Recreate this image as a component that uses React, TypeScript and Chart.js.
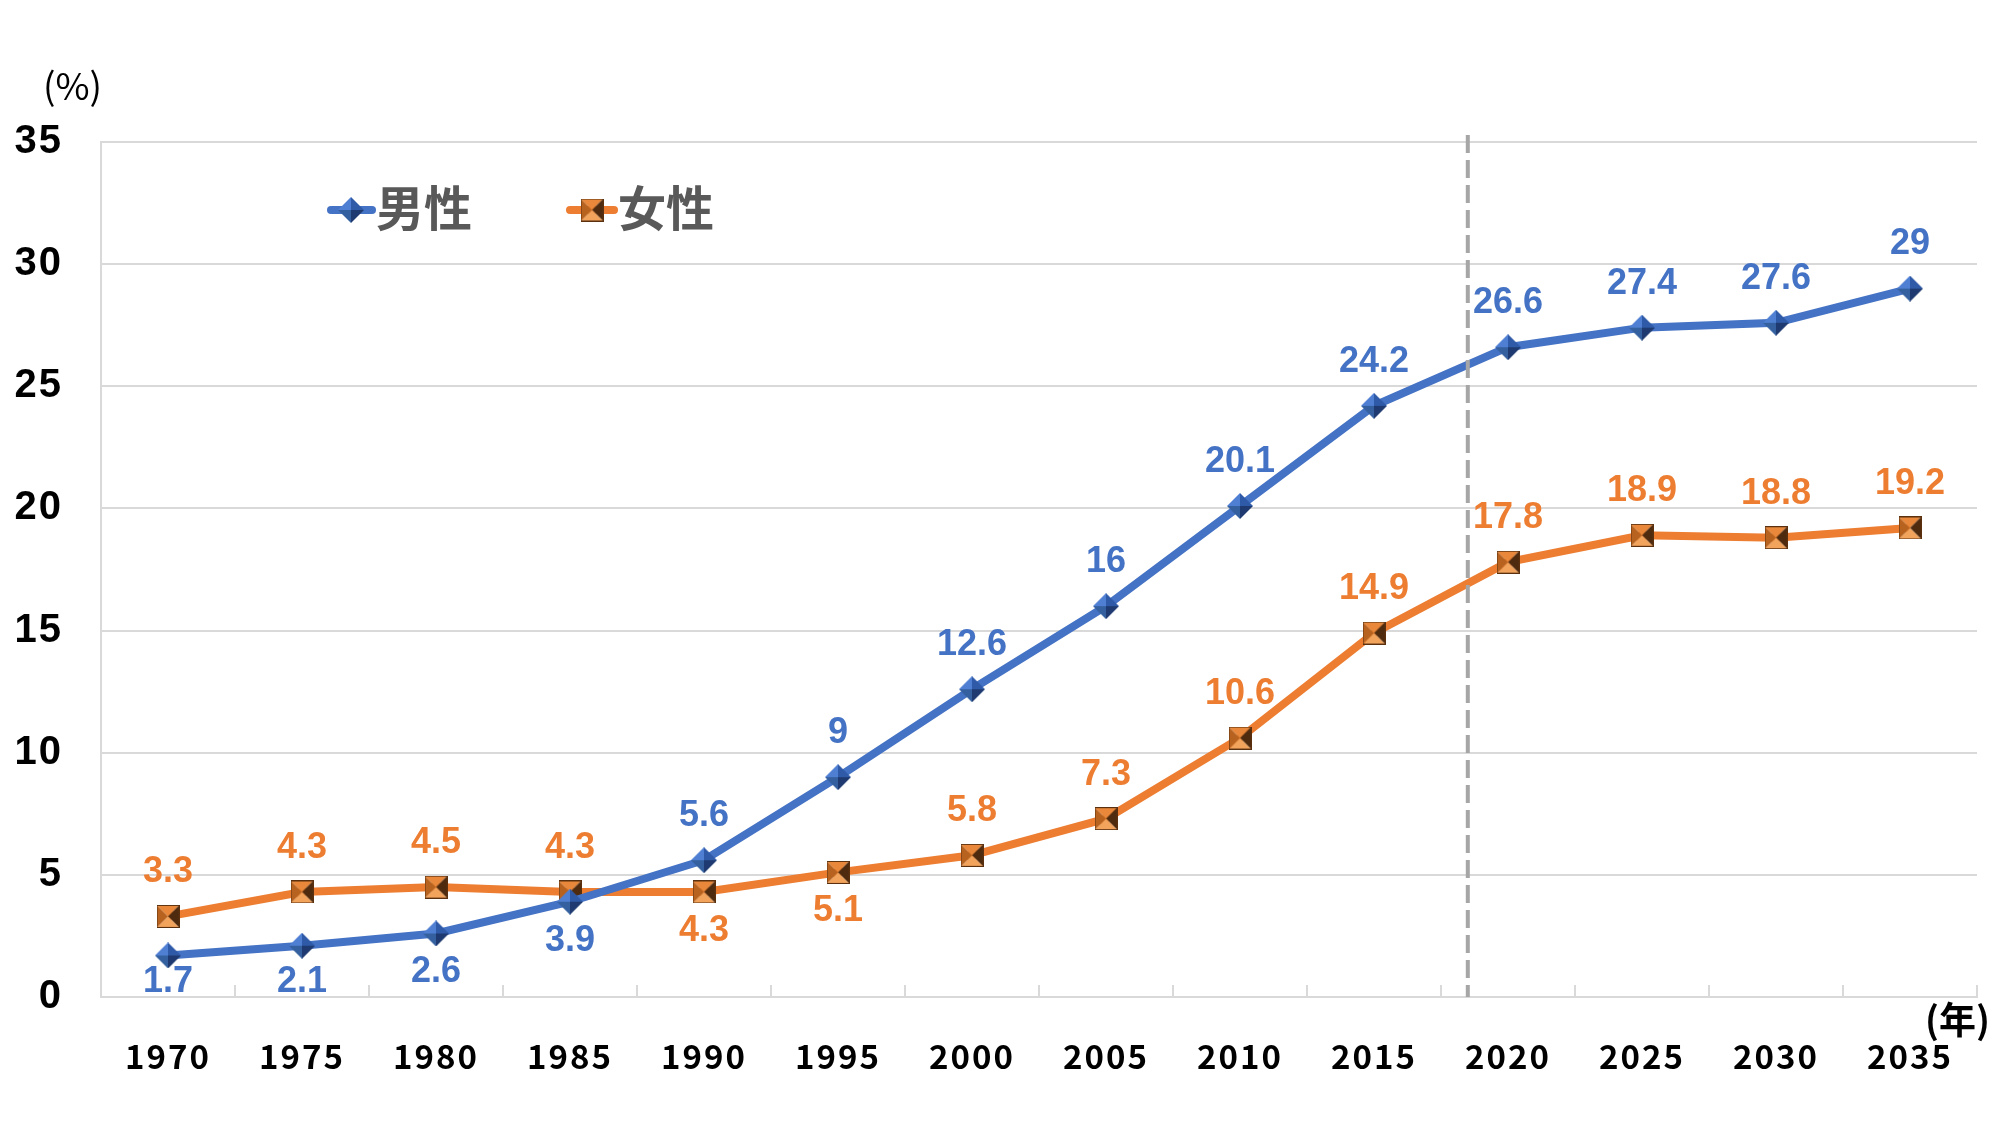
import React, { useEffect, useRef } from 'react';
import { Chart, registerables } from 'chart.js';

Chart.register(...registerables);

// ---- data ----
const years = ['1970', '1975', '1980', '1985', '1990', '1995', '2000', '2005', '2010', '2015', '2020', '2025', '2030', '2035'];
const maleValues = [1.7, 2.1, 2.6, 3.9, 5.6, 9, 12.6, 16, 20.1, 24.2, 26.6, 27.4, 27.6, 29];
const femaleValues = [3.3, 4.3, 4.5, 4.3, 4.3, 5.1, 5.8, 7.3, 10.6, 14.9, 17.8, 18.9, 18.8, 19.2];
const seriesNames = ['男性', '女性'];
const yMin = 0;
const yMax = 35;
const yStep = 5;
const yUnitLabel = '(%)';
const xUnitLabel = '(年)';
// label placement (true = below the point)
const maleLabelBelow = [true, true, true, true, false, false, false, false, false, false, false, false, false, false];
const femaleLabelBelow = [false, false, false, false, true, true, false, false, false, false, false, false, false, false];
// position of the dashed divider, in category-index units
const dividerIndex = 9.7;

const BLUE = '#4472C4';
const ORANGE = '#ED7D31';
const GRID = '#D9D9D9';

function makeDiamond(size: number): HTMLCanvasElement {
  const c = document.createElement('canvas');
  c.width = size;
  c.height = size;
  const ctx = c.getContext('2d')!;
  const m = size / 2;
  const T = [m, 0], R = [size, m], B = [m, size], L = [0, m], C = [m, m];
  const tri = (a: number[], b: number[], col: string) => {
    ctx.beginPath();
    ctx.moveTo(C[0], C[1]);
    ctx.lineTo(a[0], a[1]);
    ctx.lineTo(b[0], b[1]);
    ctx.closePath();
    ctx.fillStyle = col;
    ctx.fill();
  };
  tri(L, T, '#4F7FD3');
  tri(T, R, '#2F5AA8');
  tri(R, B, '#1E3A70');
  tri(B, L, '#34609F');
  return c;
}

function makeSquare(size: number): HTMLCanvasElement {
  const c = document.createElement('canvas');
  c.width = size;
  c.height = size;
  const ctx = c.getContext('2d')!;
  const m = size / 2;
  const TL = [0, 0], TR = [size, 0], BR = [size, size], BL = [0, size], C = [m, m];
  const tri = (a: number[], b: number[], col: string) => {
    ctx.beginPath();
    ctx.moveTo(C[0], C[1]);
    ctx.lineTo(a[0], a[1]);
    ctx.lineTo(b[0], b[1]);
    ctx.closePath();
    ctx.fillStyle = col;
    ctx.fill();
  };
  tri(TL, TR, '#E9883A');
  tri(TR, BR, '#4E2A0E');
  tri(BR, BL, '#F2A35C');
  tri(BL, TL, '#B8621F');
  ctx.strokeStyle = '#5A300F';
  ctx.lineWidth = 1;
  ctx.strokeRect(0.5, 0.5, size - 1, size - 1);
  return c;
}

export default function App() {
  const ref = useRef<HTMLCanvasElement | null>(null);

  useEffect(() => {
    document.body.style.margin = '0';
    const canvas = ref.current!;
    const diamond = makeDiamond(26);
    const square = makeSquare(23);

    const decor = {
      id: 'decor',
      beforeDraw(chart: any) {
        // slightly spaced axis digits, as in the original
        (chart.ctx as any).letterSpacing = '2px';
      },
      beforeDatasetsDraw(chart: any) {
        const { ctx, chartArea, scales } = chart;
        (ctx as any).letterSpacing = '0px';
        const xs = scales.x;
        ctx.save();
        ctx.strokeStyle = GRID;
        ctx.lineWidth = 2;
        const step = xs.getPixelForValue(1) - xs.getPixelForValue(0);
        for (let i = 0; i <= years.length; i++) {
          const x = Math.round(xs.getPixelForValue(0) - step / 2 + i * step);
          ctx.beginPath();
          ctx.moveTo(x, chartArea.bottom);
          ctx.lineTo(x, chartArea.bottom - 12);
          ctx.stroke();
        }
        ctx.restore();
      },
      afterDatasetsDraw(chart: any) {
        const { ctx, chartArea, scales } = chart;
        const xs = scales.x;
        // dashed divider
        const i0 = Math.floor(dividerIndex);
        const frac = dividerIndex - i0;
        const dx = xs.getPixelForValue(i0) + frac * (xs.getPixelForValue(i0 + 1) - xs.getPixelForValue(i0));
        ctx.save();
        ctx.strokeStyle = '#A6A6A6';
        ctx.lineWidth = 4;
        ctx.setLineDash([18, 7]);
        ctx.beginPath();
        ctx.moveTo(dx, chartArea.top - 7);
        ctx.lineTo(dx, chartArea.bottom);
        ctx.stroke();
        ctx.restore();

        // data labels
        ctx.save();
        ctx.font = 'bold 36px "Liberation Sans", Arial, sans-serif';
        ctx.textAlign = 'center';
        ctx.textBaseline = 'middle';
        const sets = [
          { vals: maleValues, below: maleLabelBelow, color: BLUE },
          { vals: femaleValues, below: femaleLabelBelow, color: ORANGE },
        ];
        sets.forEach((s, di) => {
          const meta = chart.getDatasetMeta(di);
          ctx.fillStyle = s.color;
          meta.data.forEach((pt: any, i: number) => {
            let y = s.below[i] ? pt.y + 39 : pt.y - 44;
            if (y > chartArea.bottom - 15) y = chartArea.bottom - 15;
            ctx.fillText(String(s.vals[i]), pt.x, y);
          });
        });
        ctx.restore();
      },
      afterDraw(chart: any) {
        const { ctx } = chart;
        ctx.save();
        // legend
        const items = [
          { x1: 331, x2: 372, mx: 351, tx: 376, color: BLUE, img: diamond, text: seriesNames[0] },
          { x1: 570, x2: 614, mx: 592, tx: 618, color: ORANGE, img: square, text: seriesNames[1] },
        ];
        const ly = 210;
        items.forEach((it) => {
          ctx.strokeStyle = it.color;
          ctx.lineWidth = 8;
          ctx.lineCap = 'round';
          ctx.beginPath();
          ctx.moveTo(it.x1, ly);
          ctx.lineTo(it.x2, ly);
          ctx.stroke();
          ctx.drawImage(it.img, it.mx - it.img.width / 2, ly - it.img.height / 2);
          ctx.fillStyle = '#595959';
          ctx.font = 'bold 48px "Noto Sans CJK JP", sans-serif';
          ctx.textAlign = 'left';
          ctx.textBaseline = 'middle';
          ctx.fillText(it.text, it.tx, ly - 2);
        });
        // unit labels
        ctx.fillStyle = '#000';
        ctx.font = '37px "Noto Sans CJK JP", sans-serif';
        ctx.textAlign = 'left';
        ctx.textBaseline = 'middle';
        ctx.fillText(yUnitLabel, 43, 86);
        ctx.font = 'bold 37px "Noto Sans CJK JP", sans-serif';
        ctx.textAlign = 'right';
        ctx.fillText(xUnitLabel, 1990, 1020);
        ctx.restore();
      },
    };

    const chart = new Chart(canvas, {
      type: 'line',
      data: {
        labels: years,
        datasets: [
          {
            label: seriesNames[0],
            data: maleValues,
            borderColor: BLUE,
            backgroundColor: BLUE,
            borderWidth: 8,
            pointStyle: diamond as any,
            pointRadius: 13,
            tension: 0,
            clip: false as any,
          },
          {
            label: seriesNames[1],
            data: femaleValues,
            borderColor: ORANGE,
            backgroundColor: ORANGE,
            borderWidth: 8,
            pointStyle: square as any,
            pointRadius: 12,
            tension: 0,
            clip: false as any,
          },
        ],
      },
      options: {
        responsive: false,
        animation: false,
        devicePixelRatio: 1,
        layout: { padding: { left: 0, top: 142, right: 36, bottom: 0 } },
        plugins: { legend: { display: false }, tooltip: { enabled: false } },
        scales: {
          x: {
            type: 'category',
            offset: true,
            grid: { display: false, drawTicks: false },
            border: { display: true, color: GRID, width: 2 },
            ticks: {
              color: '#000',
              padding: 40,
              maxRotation: 0,
              autoSkip: false,
              font: { family: '"Noto Sans CJK JP", sans-serif', size: 33, weight: 'bold' },
            },
            afterFit: (s: any) => {
              s.height = 128;
            },
          },
          y: {
            min: yMin,
            max: yMax,
            ticks: {
              stepSize: yStep,
              color: '#000',
              padding: 38,
              font: { family: '"Liberation Sans", Arial, sans-serif', size: 40, weight: 'bold' },
            },
            grid: { color: GRID, lineWidth: 2, drawTicks: false },
            border: { display: true, color: GRID, width: 2 },
            afterFit: (s: any) => {
              s.width = 101;
            },
          },
        },
      } as any,
      plugins: [decor],
    });
    return () => chart.destroy();
  }, []);

  return (
    <div style={{ position: 'absolute', left: 0, top: 0, width: 2013, height: 1125, background: '#fff' }}>
      <canvas ref={ref} width={2013} height={1125} style={{ display: 'block' }} />
    </div>
  );
}
